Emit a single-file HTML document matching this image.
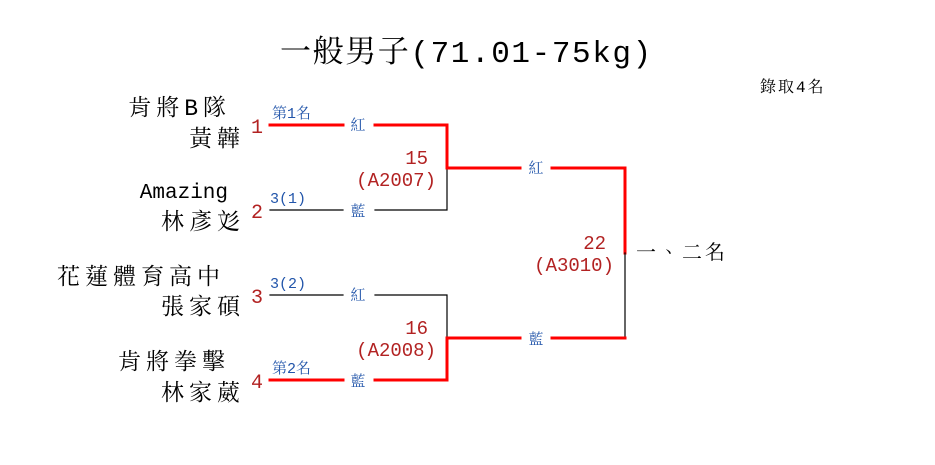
<!DOCTYPE html>
<html><head><meta charset="utf-8"><style>
html,body{margin:0;padding:0;background:#fff;width:935px;height:465px;overflow:hidden}
svg text{font-family:"Liberation Mono","Noto Serif CJK TC","Noto Serif CJK SC",monospace}
</style></head><body>
<svg width="935" height="465" viewBox="0 0 935 465" xmlns="http://www.w3.org/2000/svg">
<text x="280" y="62" font-size="31" fill="#000" letter-spacing="1.6">一般男子(71.01-75kg)</text>
<text x="760" y="92" font-size="16" fill="#000" letter-spacing="2">錄取4名</text>

<g font-size="23" fill="#000" text-anchor="end" letter-spacing="5">
<text x="231" y="115">肯將B隊</text>
<text x="245" y="146">黃韡</text>
<text x="228" y="198" letter-spacing="0" font-size="21">Amazing</text>
<text x="245" y="229">林彥彣</text>
<text x="225" y="284">花蓮體育高中</text>
<text x="245" y="314">張家碩</text>
<text x="230" y="369">肯將拳擊</text>
<text x="245" y="400">林家葳</text>
</g>
<g font-size="20" fill="#b22222" text-anchor="middle">
<text x="257" y="133">1</text>
<text x="257" y="218">2</text>
<text x="257" y="303">3</text>
<text x="257" y="388">4</text>
</g>
<g font-size="15" fill="#2255aa">
<text x="272" y="118">第1名</text>
<text x="270" y="203">3(1)</text>
<text x="270" y="288">3(2)</text>
<text x="272" y="373">第2名</text>
<g text-anchor="middle">
<text x="358" y="130">紅</text>
<text x="358" y="216">藍</text>
<text x="358" y="300">紅</text>
<text x="358" y="386">藍</text>
<text x="536" y="173">紅</text>
<text x="536" y="344">藍</text>
</g>
</g>
<g font-size="19" fill="#b22222" text-anchor="end">
<text x="428" y="164">15</text>
<text x="436" y="186">(A2007)</text>
<text x="428" y="334">16</text>
<text x="436" y="356">(A2008)</text>
<text x="606" y="249">22</text>
<text x="614" y="271">(A3010)</text>
</g>
<text x="636" y="259" font-size="20" fill="#000" letter-spacing="3">一、二名</text>

<g fill="none" stroke-linecap="square">
<path d="M270 125H343M375 125H447V168" stroke="#f00" stroke-width="3"/>
<path d="M270 210H343M375 210H447V168" stroke="#000" stroke-width="1.2"/>
<path d="M447 168H520M552 168H625V253" stroke="#f00" stroke-width="3"/>
<path d="M625 253V338" stroke="#000" stroke-width="1.2"/>
<path d="M270 295H343M375 295H447V338" stroke="#000" stroke-width="1.2"/>
<path d="M270 380H343M375 380H447V338" stroke="#f00" stroke-width="3"/>
<path d="M447 338H520M552 338H625" stroke="#f00" stroke-width="3"/>
</g>
</svg>
</body></html>
